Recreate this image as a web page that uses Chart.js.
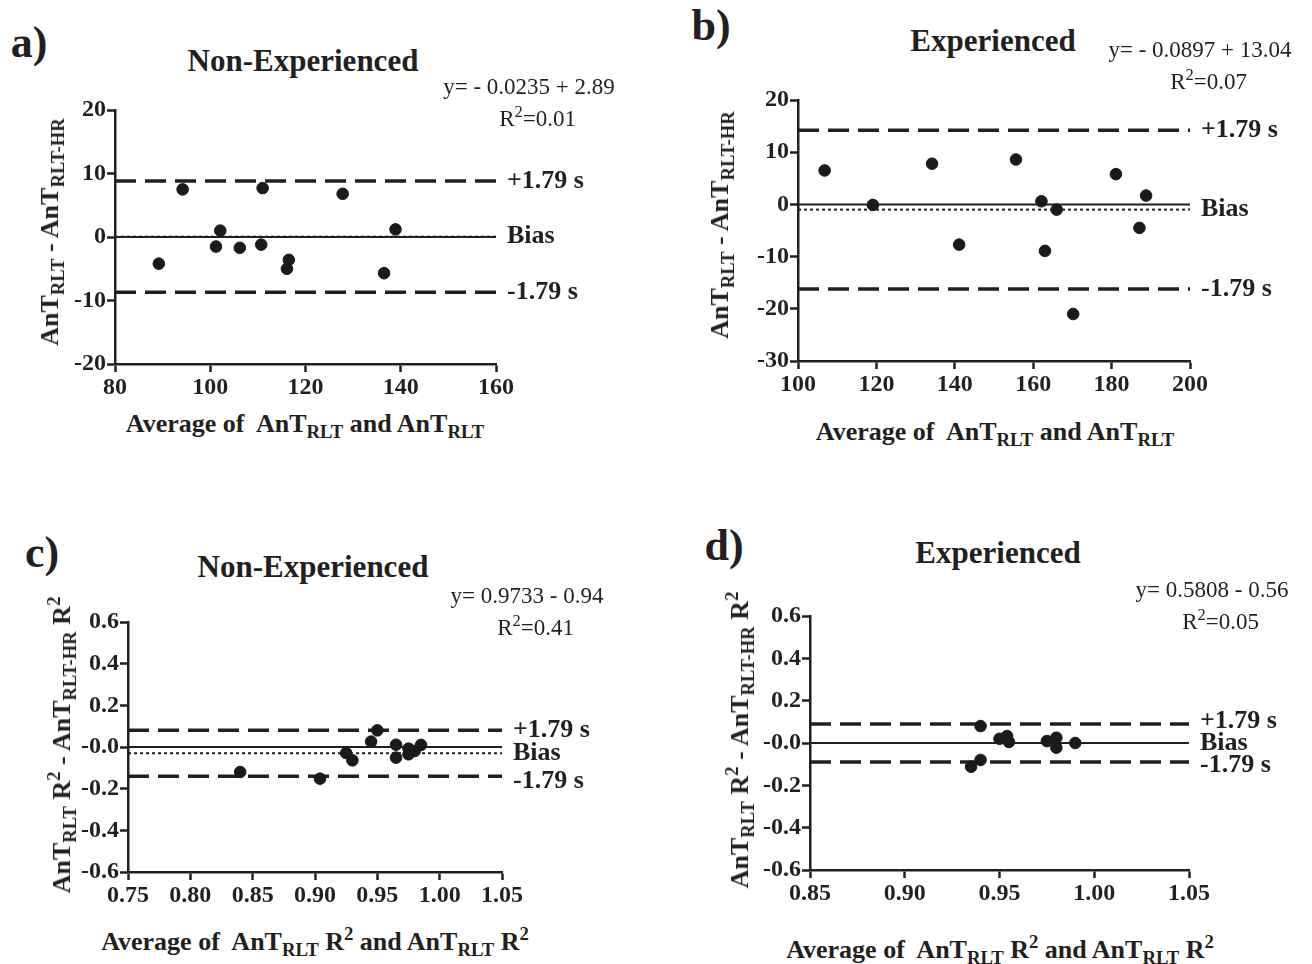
<!DOCTYPE html>
<html>
<head>
<meta charset="utf-8">
<script src="https://cdn.jsdelivr.net/npm/chart.js@4.4.1/dist/chart.umd.min.js"></script>
<style>
  body { margin: 0; background: #fff; width: 1312px; height: 964px; position: relative; overflow: hidden;
         font-family: 'Liberation Serif', 'Times New Roman', serif; color: #231f20; }
  canvas { position: absolute; }
  .t { position: absolute; white-space: nowrap; transform: translate(-50%, -50%); }
  .letter { font-size: 44px; font-weight: bold; }
  .title { font-size: 31px; font-weight: bold; }
  .eq { font-size: 23px; text-align: center; line-height: 32px; }
  .xt { font-size: 26px; font-weight: bold; }
  .yt { font-size: 26px; font-weight: bold; transform: translate(-50%, -50%) rotate(-90deg); }
  sub, sup { font-size: 0.72em; line-height: 0; }
</style>
</head>
<body>
<canvas id="chartA"></canvas>
<canvas id="chartB"></canvas>
<canvas id="chartC"></canvas>
<canvas id="chartD"></canvas>

<div class="t letter" style="left:29px; top:42px;">a)</div>
<div class="t letter" style="left:711px; top:25px;">b)</div>
<div class="t letter" style="left:42px; top:552px;">c)</div>
<div class="t letter" style="left:724px; top:545px;">d)</div>

<div class="t title" style="left:303px; top:61px;">Non-Experienced</div>
<div class="t title" style="left:993px; top:41px;">Experienced</div>
<div class="t title" style="left:313px; top:567px;">Non-Experienced</div>
<div class="t title" style="left:998px; top:553px;">Experienced</div>

<div class="t eq" style="left:529px; top:103px;">y= - 0.0235 + 2.89<br>&nbsp;&nbsp;&nbsp;R<sup>2</sup>=0.01</div>
<div class="t eq" style="left:1200px; top:66px;">y= - 0.0897 + 13.04<br>&nbsp;&nbsp;&nbsp;R<sup>2</sup>=0.07</div>
<div class="t eq" style="left:527px; top:612px;">y= 0.9733 - 0.94<br>&nbsp;&nbsp;&nbsp;R<sup>2</sup>=0.41</div>
<div class="t eq" style="left:1212px; top:606px;">y= 0.5808 - 0.56<br>&nbsp;&nbsp;&nbsp;R<sup>2</sup>=0.05</div>

<div class="t yt" style="left:50px; top:232px;">AnT<sub>RLT</sub> - AnT<sub>RLT-HR</sub></div>
<div class="t yt" style="left:720px; top:225px;">AnT<sub>RLT</sub> - AnT<sub>RLT-HR</sub></div>
<div class="t yt" style="left:62px; top:745px;">AnT<sub>RLT</sub> R<sup>2</sup> - AnT<sub>RLT-HR</sub> R<sup>2</sup></div>
<div class="t yt" style="left:740px; top:740px;">AnT<sub>RLT</sub> R<sup>2</sup> - AnT<sub>RLT-HR</sub> R<sup>2</sup></div>

<div class="t xt" style="left:305px; top:424px;">Average of&nbsp; AnT<sub>RLT</sub> and AnT<sub>RLT</sub></div>
<div class="t xt" style="left:995px; top:432px;">Average of&nbsp; AnT<sub>RLT</sub> and AnT<sub>RLT</sub></div>
<div class="t xt" style="left:315px; top:942px;">Average of&nbsp; AnT<sub>RLT</sub> R<sup>2</sup> and AnT<sub>RLT</sub> R<sup>2</sup></div>
<div class="t xt" style="left:1000px; top:950px;">Average of&nbsp; AnT<sub>RLT</sub> R<sup>2</sup> and AnT<sub>RLT</sub> R<sup>2</sup></div>

<script>
// limits are [+1.79 s, bias, -1.79 s]
const limitNames = ['+1.79 s', 'Bias', '-1.79 s'];

// a) non-experienced, AnT
const aX = [89.2, 94.2, 102.1, 101.2, 106.2, 110.7, 111.0, 116.5, 116.1, 127.8, 136.5, 138.9];
const aY = [-4.2, 7.5, 1.0, -1.5, -1.7, -1.2, 7.7, -3.6, -5.0, 6.8, -5.7, 1.2];
const aLimits = [8.8, 0.05, -8.7];
const aXTicks = [80, 100, 120, 140, 160];
const aYTicks = [-20, -10, 0, 10, 20];
const aYLabels = ['-20', '-10', '0', '10', '20'];

// b) experienced, AnT
const bX = [106.8, 119.1, 134.2, 141.1, 155.6, 162.1, 163.0, 166.0, 170.2, 181.1, 187.1, 188.8];
const bY = [6.5, -0.1, 7.8, -7.7, 8.6, 0.6, -8.9, -1.0, -21.0, 5.8, -4.5, 1.7];
const bLimits = [14.2, -1.0, -16.2];
const bXTicks = [100, 120, 140, 160, 180, 200];
const bYTicks = [-30, -20, -10, 0, 10, 20];
const bYLabels = ['-30', '-20', '-10', '0', '10', '20'];

// c) non-experienced, R2
const cX = [0.840, 0.904, 0.925, 0.930, 0.945, 0.950, 0.965, 0.965, 0.975, 0.975, 0.980, 0.985];
const cY = [-0.12, -0.152, -0.029, -0.064, 0.026, 0.08, 0.011, -0.051, -0.008, -0.035, -0.019, 0.01];
const cLimits = [0.08, -0.03, -0.14];
const cXTicks = [0.75, 0.80, 0.85, 0.90, 0.95, 1.00, 1.05];
const cXLabels = ['0.75', '0.80', '0.85', '0.90', '0.95', '1.00', '1.05'];

// d) experienced, R2
const dX = [0.940, 0.940, 0.935, 0.950, 0.954, 0.955, 0.975, 0.980, 0.980, 0.990];
const dY = [0.08, -0.08, -0.112, 0.02, 0.033, 0.005, 0.009, 0.025, -0.022, 0.0];
const dLimits = [0.09, 0.0, -0.09];
const dXTicks = [0.85, 0.90, 0.95, 1.00, 1.05];
const dXLabels = ['0.85', '0.90', '0.95', '1.00', '1.05'];

const r2YTicks = [-0.6, -0.4, -0.2, 0, 0.2, 0.4, 0.6];
const r2YLabels = ['-0.6', '-0.4', '-0.2', '-0.0', '0.2', '0.4', '0.6'];

const ink = '#231f20';
const tickFont = { family: "'Liberation Serif', 'Times New Roman', serif", size: 24, weight: 'bold' };

const limitLabels = {
  id: 'limitLabels',
  afterDatasetsDraw(chart, args, opts) {
    const { ctx, chartArea, scales } = chart;
    ctx.save();
    ctx.font = "bold 26px 'Liberation Serif', serif";
    ctx.fillStyle = ink;
    ctx.textBaseline = 'middle';
    opts.values.forEach((v, i) => {
      ctx.fillText(limitNames[i], chartArea.right + 11, scales.y.getPixelForValue(v) + (opts.dy ? opts.dy[i] : 0));
    });
    ctx.restore();
  }
};

function axis(ticks, labels, fit) {
  return {
    type: 'linear',
    min: ticks[0],
    max: ticks[ticks.length - 1],
    afterBuildTicks: s => { s.ticks = ticks.map(v => ({ value: v })); },
    afterFit: fit,
    border: { display: true, color: ink, width: 2.5 },
    grid: { display: true, drawOnChartArea: false, drawTicks: true, tickLength: 8, tickWidth: 2.5, tickColor: ink },
    ticks: { color: ink, font: tickFont, padding: 1, callback: (v, i) => labels[i] }
  };
}

function hline(v, x0, x1, style) {
  return Object.assign({
    type: 'line',
    data: [{ x: x0, y: v }, { x: x1, y: v }],
    borderColor: ink,
    pointRadius: 0,
    fill: false
  }, style);
}

function makePanel(id, area, xs, ys, limits, xTicks, xLabels, yTicks, yLabels, dy) {
  const padL = 75, padT = 16, padR = 120, padB = 40;
  const canvas = document.getElementById(id);
  canvas.width = area.right - area.left + padL + padR;
  canvas.height = area.bottom - area.top + padT + padB;
  canvas.style.left = (area.left - padL) + 'px';
  canvas.style.top = (area.top - padT) + 'px';

  const x0 = xTicks[0], x1 = xTicks[xTicks.length - 1];
  new Chart(canvas, {
    type: 'scatter',
    data: {
      datasets: [
        {
          data: xs.map((x, i) => ({ x: x, y: ys[i] })),
          backgroundColor: '#1a1a1a',
          borderColor: '#1a1a1a',
          pointRadius: 5.8
        },
        hline(limits[0], x0, x1, { borderWidth: 3.5, borderDash: [21, 9] }),
        hline(limits[2], x0, x1, { borderWidth: 3.5, borderDash: [21, 9] }),
        hline(limits[1], x0, x1, { borderWidth: 2, borderDash: [3, 3] }),
        hline(0, x0, x1, { borderWidth: 2 })
      ]
    },
    options: {
      responsive: false,
      animation: false,
      clip: false,
      layout: { padding: { left: 0, top: padT, right: padR, bottom: 0 } },
      plugins: {
        legend: { display: false },
        tooltip: { enabled: false },
        limitLabels: { values: limits, dy: dy }
      },
      scales: {
        x: axis(xTicks, xLabels, s => { s.height = padB; }),
        y: axis(yTicks, yLabels, s => { s.width = padL; })
      }
    },
    plugins: [limitLabels]
  });
}

makePanel('chartA', { left: 115, top: 110, right: 496, bottom: 364 }, aX, aY, aLimits,
  aXTicks, aXTicks.map(String), aYTicks, aYLabels, [0, 0, 0]);
makePanel('chartB', { left: 798, top: 100, right: 1190, bottom: 361 }, bX, bY, bLimits,
  bXTicks, bXTicks.map(String), bYTicks, bYLabels, [0, 0, 0]);
makePanel('chartC', { left: 128, top: 622, right: 502, bottom: 872 }, cX, cY, cLimits,
  cXTicks, cXLabels, r2YTicks, r2YLabels, [0, 0, 5]);
makePanel('chartD', { left: 810, top: 616, right: 1189, bottom: 870 }, dX, dY, dLimits,
  dXTicks, dXLabels, r2YTicks, r2YLabels, [-3, 0, 3]);
</script>
</body>
</html>
